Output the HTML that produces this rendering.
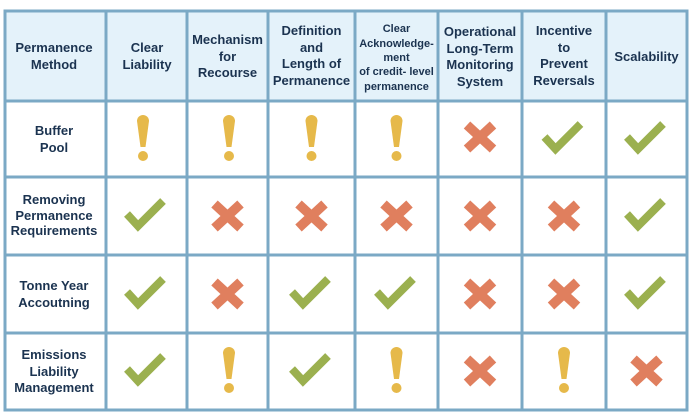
<!DOCTYPE html>
<html><head><meta charset="utf-8"><style>
html,body{margin:0;padding:0;background:#fff;}
svg{display:block;}
text{font-family:"Liberation Sans",sans-serif;font-weight:bold;fill:#1b3350;text-anchor:middle;}
.h{font-size:13px;}
.s{font-size:11px;}
</style></head><body>
<svg width="690" height="413" viewBox="0 0 690 413" xmlns="http://www.w3.org/2000/svg">
<defs>
<g id="chk"><polyline points="-19.5,-2 -8.5,10 16.5,-15" fill="none" stroke="#9bb04f" stroke-width="8" stroke-linejoin="miter"/></g>
<g id="x"><g stroke="#e07f5e" stroke-width="9.5"><line x1="-13" y1="-12" x2="13" y2="12"/><line x1="13" y1="-12" x2="-13" y2="12"/></g></g>
<g id="ex"><path d="M-6,-18 A6,6 0 0 1 6,-18 L2.5,8 L-2.5,8 Z" fill="#e6b94a"/><circle cx="0" cy="17" r="5" fill="#e6b94a"/></g>
</defs>
<rect x="5" y="11" width="682" height="90" fill="#e4f2fa"/>
<g stroke="#7ba9c5" stroke-width="3" fill="none">
<rect x="5" y="11" width="682" height="399"/>
<line x1="106" y1="11" x2="106" y2="410"/>
<line x1="187" y1="11" x2="187" y2="410"/>
<line x1="268" y1="11" x2="268" y2="410"/>
<line x1="355" y1="11" x2="355" y2="410"/>
<line x1="438" y1="11" x2="438" y2="410"/>
<line x1="522" y1="11" x2="522" y2="410"/>
<line x1="606" y1="11" x2="606" y2="410"/>
<line x1="5" y1="101" x2="687" y2="101"/>
<line x1="5" y1="177" x2="687" y2="177"/>
<line x1="5" y1="255" x2="687" y2="255"/>
<line x1="5" y1="333" x2="687" y2="333"/>
</g>
<!-- header -->
<text class="h" x="54" y="52">Permanence</text><text class="h" x="54" y="69">Method</text>
<text class="h" x="147" y="52">Clear</text><text class="h" x="147" y="69">Liability</text>
<text class="h" x="227.5" y="44">Mechanism</text><text class="h" x="227.5" y="61">for</text><text class="h" x="227.5" y="77">Recourse</text>
<text class="h" x="311.5" y="35">Definition</text><text class="h" x="311.5" y="52">and</text><text class="h" x="311.5" y="68">Length of</text><text class="h" x="311.5" y="85">Permanence</text>
<text class="s" x="396.5" y="32">Clear</text><text class="s" x="396.5" y="47">Acknowledge-</text><text class="s" x="396.5" y="61">ment</text><text class="s" x="396.5" y="75">of credit- level</text><text class="s" x="396.5" y="90">permanence</text>
<text class="h" x="480" y="36">Operational</text><text class="h" x="480" y="53">Long-Term</text><text class="h" x="480" y="69">Monitoring</text><text class="h" x="480" y="86">System</text>
<text class="h" x="564" y="35">Incentive</text><text class="h" x="564" y="52">to</text><text class="h" x="564" y="68">Prevent</text><text class="h" x="564" y="85">Reversals</text>
<text class="h" x="646.5" y="61">Scalability</text>
<!-- row labels -->
<text class="h" x="54" y="135">Buffer</text><text class="h" x="54" y="152">Pool</text>
<text class="h" x="54" y="204">Removing</text><text class="h" x="54" y="220">Permanence</text><text class="h" x="54" y="235">Requirements</text>
<text class="h" x="54" y="290">Tonne Year</text><text class="h" x="54" y="307">Accoutning</text>
<text class="h" x="54" y="359">Emissions</text><text class="h" x="54" y="376">Liability</text><text class="h" x="54" y="392">Management</text>
<!-- row 1 -->
<use href="#ex" x="143" y="139"/><use href="#ex" x="229" y="139"/><use href="#ex" x="311.5" y="139"/><use href="#ex" x="396.5" y="139"/>
<use href="#x" x="480" y="137"/><use href="#chk" x="564" y="139"/><use href="#chk" x="646.5" y="139"/>
<!-- row 2 -->
<use href="#chk" x="146.5" y="216"/><use href="#x" x="227.5" y="216"/><use href="#x" x="311.5" y="216"/><use href="#x" x="396.5" y="216"/>
<use href="#x" x="480" y="216"/><use href="#x" x="564" y="216"/><use href="#chk" x="646.5" y="216"/>
<!-- row 3 -->
<use href="#chk" x="146.5" y="294"/><use href="#x" x="227.5" y="294"/><use href="#chk" x="311.5" y="294"/><use href="#chk" x="396.5" y="294"/>
<use href="#x" x="480" y="294"/><use href="#x" x="564" y="294"/><use href="#chk" x="646.5" y="294"/>
<!-- row 4 -->
<use href="#chk" x="146.5" y="371"/><use href="#ex" x="229" y="371"/><use href="#chk" x="311.5" y="371"/><use href="#ex" x="396.5" y="371"/>
<use href="#x" x="480" y="371"/><use href="#ex" x="564" y="371"/><use href="#x" x="646.5" y="371"/>
</svg>
</body></html>
